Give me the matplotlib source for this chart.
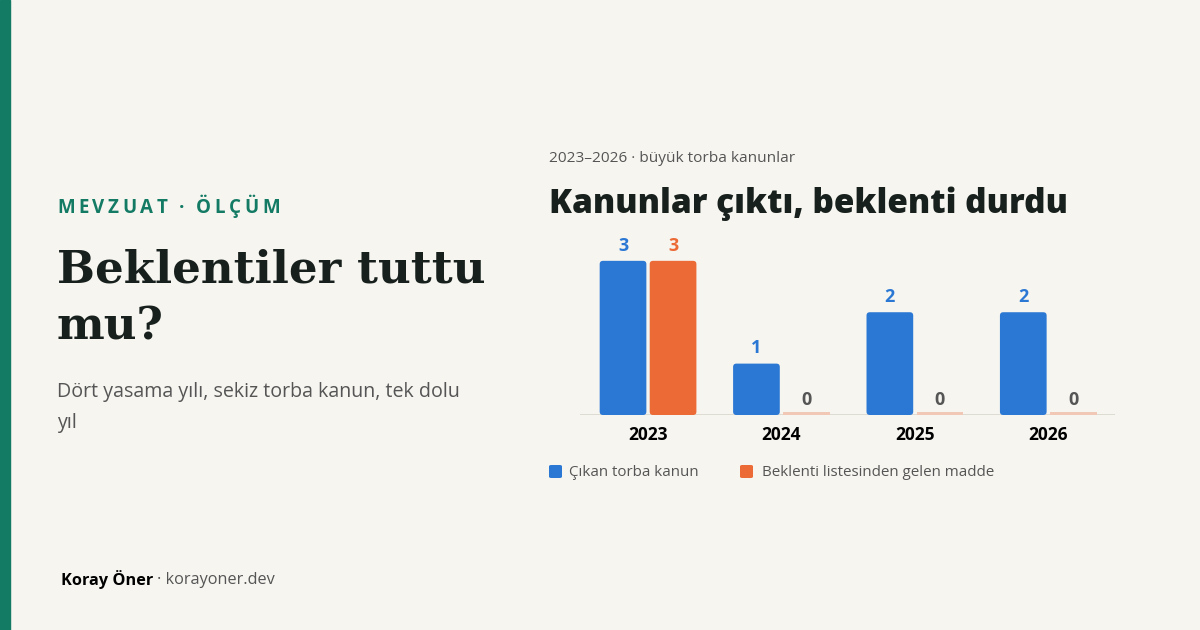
import matplotlib
matplotlib.use("Agg")
import matplotlib.pyplot as plt
from matplotlib.patches import FancyBboxPatch, Rectangle

# data
years = ["2023", "2024", "2025", "2026"]
cikan = [3, 1, 2, 2]
beklenti = [3, 0, 0, 0]
legend_labels = ["Çıkan torba kanun", "Beklenti listesinden gelen madde"]

BG = "#f6f5f0"
GREEN = "#137a64"
BLUE = "#2b78d4"
ORANGE = "#eb6a35"
FADED = "#f1c7b5"
DARK = "#18201d"
GRAY = "#555555"
SANS = "Open Sans"

W, H = 1200, 630
fig = plt.figure(figsize=(12, 6.3), dpi=100, facecolor=BG)


def px(x, y):
    return x / W, 1 - y / H


# left accent strip
fig.patches.append(Rectangle((0, 0), 10 / W, 1, transform=fig.transFigure,
                             color=GREEN, zorder=0))


def spaced_text(x, y, s, spacing, **kw):
    r = fig.canvas.get_renderer()
    cx = x
    for ch in s:
        t = fig.text(*px(cx, y), ch, **kw)
        if ch == " ":
            w = kw.get("fontsize", 10) * 0.3
        else:
            w = t.get_window_extent(r).width
        cx += w + spacing


spaced_text(57, 208, "MEVZUAT · ÖLÇÜM", 3.6, color=GREEN, fontsize=13.5,
            fontweight="bold", family=SANS, va="center")

fig.text(*px(57, 270), "Beklentiler tuttu", family="DejaVu Serif",
         fontweight="bold", fontsize=32.5, color=DARK, va="center")
fig.text(*px(57, 327), "mu?", family="DejaVu Serif",
         fontweight="bold", fontsize=32.5, color=DARK, va="center")

fig.text(*px(57, 392), "Dört yasama yılı, sekiz torba kanun, tek dolu",
         family=SANS, fontsize=14.1, color=GRAY, va="center")
fig.text(*px(57, 423), "yıl", family=SANS, fontsize=14.1,
         color=GRAY, va="center")

t1 = fig.text(*px(61, 580), "Koray Öner", family=SANS,
              fontweight="bold", fontsize=11.7, color="black", va="center")
r = fig.canvas.get_renderer()
wx = t1.get_window_extent(r).x1
fig.text(wx / W + 4 / W, 1 - 580 / H, "· korayoner.dev", family=SANS,
         fontsize=11.7, color=GRAY, va="center")

# chart header
fig.text(*px(549, 158), "2023–2026 · büyük torba kanunlar", family=SANS,
         fontsize=11.1, color=GRAY, va="center")
fig.text(*px(549, 204), "Kanunlar çıktı, beklenti durdu", family=SANS,
         fontweight="heavy", fontsize=24, color=DARK, va="center")

# chart
ax = fig.add_axes([580 / W, (H - 415) / H, 535 / W, 185 / H])
ax.set_facecolor(BG)
ax.set_xlim(-0.51, 3.5)
ax.set_ylim(0, 3.6)
for s in ax.spines.values():
    s.set_visible(False)
ax.set_yticks([])
ax.set_xticks(range(len(years)))
ax.set_xticklabels(years, fontweight="bold", fontsize=12.5, color="black",
                   family=SANS)
ax.tick_params(axis="x", length=0, pad=8)
ax.axhline(0, color="#dcd8d0", lw=2, zorder=1)

bw = 0.35
off = 0.1875
aspect = (3.6 / 185) / (4.01 / 535)


def rbar(x, h, color):
    p = FancyBboxPatch((x - bw / 2, 0), bw, h,
                       boxstyle="round,pad=0,rounding_size=0.025",
                       mutation_aspect=aspect, fc=color, ec="none", zorder=2)
    ax.add_patch(p)


for i in range(len(years)):
    for val, dx, col in [(cikan[i], -off, BLUE), (beklenti[i], off, ORANGE)]:
        xc = i + dx
        if val > 0:
            rbar(xc, val, col)
            ax.text(xc, val + 0.12, str(val), ha="center", va="bottom",
                    color=col, fontweight="bold", fontsize=13, family=SANS)
        else:
            ax.add_patch(Rectangle((xc - bw / 2, 0), bw, 0.06, fc=FADED,
                                   ec="none", zorder=2))
            ax.text(xc, 0.12, "0", ha="center", va="bottom", color=GRAY,
                    fontweight="bold", fontsize=13, family=SANS)

# legend
for lx, tx, col, lab in [(549, 569, BLUE, legend_labels[0]),
                          (740, 762, ORANGE, legend_labels[1])]:
    fig.patches.append(FancyBboxPatch((lx / W, 1 - 478 / H), 13 / W, 13 / H,
                                      boxstyle="round,pad=0,rounding_size=0.002",
                                      transform=fig.transFigure, fc=col, ec="none"))
    fig.text(*px(tx, 472), lab, family=SANS, fontsize=10.9, color=GRAY,
             va="center")

fig.savefig("out.png", dpi=100, facecolor=BG)
